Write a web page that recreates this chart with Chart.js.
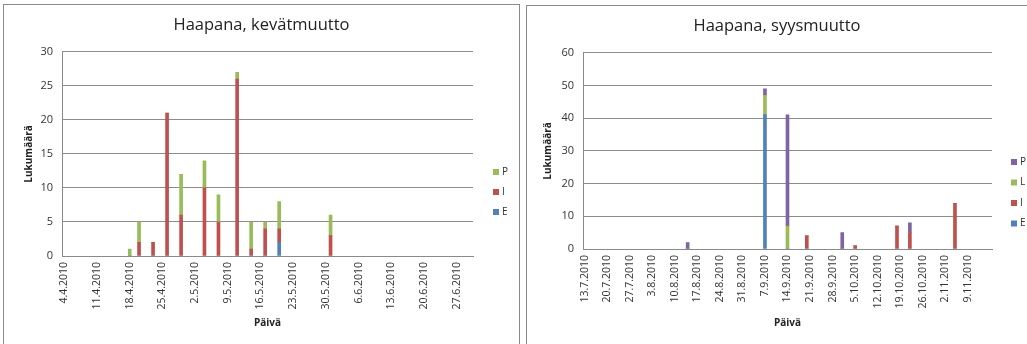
<!DOCTYPE html>
<html>
<head>
<meta charset="utf-8">
<script src="https://cdn.jsdelivr.net/npm/chart.js@4"></script>
<style>
  body { margin: 0; background: #fff; }
  .panel { position: absolute; border: 1px solid #8a8a8a; background: #fff; }
  #p1 { left: 3px; top: 4px; width: 515px; height: 360px; }
  #p2 { left: 526px; top: 5px; width: 510px; height: 360px; }
  canvas { display: block; }
</style>
</head>
<body>
<div class="panel" id="p1"><canvas id="spring" width="515" height="340"></canvas></div>
<div class="panel" id="p2"><canvas id="autumn" width="500" height="338"></canvas></div>
<script>
// kevätmuutto (spring)
const springStart = '4.4.2010';
const springEnd = '30.6.2010';
const springDates = ['18.4.2010', '20.4.2010', '23.4.2010', '26.4.2010', '29.4.2010', '4.5.2010',
  '7.5.2010', '11.5.2010', '14.5.2010', '17.5.2010', '20.5.2010', '31.5.2010'];
const springE = [0, 0, 0, 0, 0, 0, 0, 0, 0, 0, 2, 0];
const springI = [0, 2, 2, 21, 6, 10, 5, 26, 1, 4, 2, 3];
const springP = [1, 3, 0, 0, 6, 4, 4, 1, 4, 1, 4, 3];
const springTicks = ['4.4.2010', '11.4.2010', '18.4.2010', '25.4.2010', '2.5.2010', '9.5.2010',
  '16.5.2010', '23.5.2010', '30.5.2010', '6.6.2010', '13.6.2010', '20.6.2010', '27.6.2010'];

// syysmuutto (autumn)
const autumnStart = '13.7.2010';
const autumnEnd = '16.11.2010';
const autumnDates = ['14.8.2010', '7.9.2010', '14.9.2010', '20.9.2010', '1.10.2010', '5.10.2010',
  '18.10.2010', '22.10.2010', '5.11.2010'];
const autumnE = [0, 41, 0, 0, 0, 0, 0, 0, 0];
const autumnI = [0, 0, 0, 4, 0, 1, 7, 5, 14];
const autumnL = [0, 6, 7, 0, 0, 0, 0, 0, 0];
const autumnP = [2, 2, 34, 0, 5, 0, 0, 3, 0];
const autumnTicks = ['13.7.2010', '20.7.2010', '27.7.2010', '3.8.2010', '10.8.2010', '17.8.2010',
  '24.8.2010', '31.8.2010', '7.9.2010', '14.9.2010', '21.9.2010', '28.9.2010', '5.10.2010',
  '12.10.2010', '19.10.2010', '26.10.2010', '2.11.2010', '9.11.2010'];

const BLUE = '#4F81BD', RED = '#C0504D', GREEN = '#9BBB59', PURPLE = '#8064A2';
const FONT = '"Open Sans", "DejaVu Sans", sans-serif';

function dayIndex(str, start) {
  const p = str.split('.').map(Number);
  const s = start.split('.').map(Number);
  return Math.round((Date.UTC(p[2], p[1] - 1, p[0]) - Date.UTC(s[2], s[1] - 1, s[0])) / 86400000);
}

// legend drawn at the right like the Excel one (reverse order)
const sideLegend = {
  id: 'sideLegend',
  afterDraw(chart, args, opts) {
    const ctx = chart.ctx;
    const sets = chart.data.datasets.slice().reverse();
    ctx.save();
    ctx.font = '10px ' + FONT;
    ctx.textBaseline = 'middle';
    sets.forEach((ds, i) => {
      const y = opts.y + i * opts.gap;
      ctx.fillStyle = ds.backgroundColor;
      ctx.fillRect(opts.x, y - 3, 6, 6);
      ctx.fillStyle = '#333';
      ctx.fillText(ds.label, opts.x + 9, y);
    });
    ctx.restore();
  }
};

function drawChart(canvasId, cfg) {
  const start = cfg.start;
  const tickLabels = {};
  cfg.ticks.forEach(t => { tickLabels[dayIndex(t, start)] = t; });

  const datasets = cfg.series.map(s => ({
    label: s.label,
    data: cfg.dates.map((d, i) => ({ x: dayIndex(d, start), y: s.values[i] })),
    backgroundColor: s.color,
    borderWidth: 0,
    barThickness: 3
  }));

  new Chart(document.getElementById(canvasId), {
    type: 'bar',
    data: { datasets: datasets },
    plugins: [sideLegend],
    options: {
      responsive: false,
      animation: false,
      layout: { padding: 0 },
      scales: {
        x: {
          type: 'linear',
          stacked: true,
          offset: false,
          min: -0.5,
          max: dayIndex(cfg.end, start) + 0.5,
          grid: { display: false, drawTicks: false },
          border: { display: true, color: '#8a8a8a' },
          afterBuildTicks: scale => {
            scale.ticks = cfg.ticks.map(t => ({ value: dayIndex(t, start) }));
          },
          afterFit: scale => { scale.height = cfg.xHeight; },
          ticks: {
            autoSkip: false,
            minRotation: 90,
            maxRotation: 90,
            padding: 6,
            color: '#333',
            font: { family: FONT, size: 10.5 },
            callback: v => tickLabels[v] || ''
          },
          title: {
            display: true,
            text: 'Päivä',
            color: '#222',
            font: { family: FONT, size: 10, weight: 'bold' },
            padding: { top: 4, bottom: cfg.xTitlePad }
          }
        },
        y: {
          stacked: true,
          min: 0,
          max: cfg.yMax,
          grid: { color: '#8c8c8c', drawTicks: false },
          border: { display: true, color: '#8a8a8a' },
          afterFit: scale => { scale.width = cfg.yWidth; },
          ticks: {
            stepSize: cfg.yStep,
            padding: 9,
            color: '#333',
            font: { family: FONT, size: 11 }
          },
          title: {
            display: true,
            text: 'Lukumäärä',
            color: '#222',
            font: { family: FONT, size: 10, weight: 'bold' },
            padding: { top: cfg.yTitlePad, bottom: 0 }
          }
        },
        // empty right-hand axis that only keeps room for the legend
        yRight: {
          position: 'right',
          display: true,
          grid: { display: false, drawTicks: false },
          border: { display: false },
          ticks: { display: false },
          afterFit: scale => { scale.width = cfg.padRight; }
        }
      },
      plugins: {
        legend: { display: false },
        tooltip: { enabled: false },
        title: {
          display: true,
          text: cfg.title,
          color: '#222',
          font: { family: FONT, size: 16.5, weight: 'normal' },
          padding: { top: cfg.titleTop, bottom: cfg.titleBottom }
        },
        sideLegend: cfg.legend
      }
    }
  });
}

drawChart('spring', {
  title: 'Haapana, kevätmuutto',
  start: springStart, end: springEnd,
  dates: springDates, ticks: springTicks,
  series: [
    { label: 'E', values: springE, color: BLUE },
    { label: 'I', values: springI, color: RED },
    { label: 'P', values: springP, color: GREEN }
  ],
  yMax: 30, yStep: 5,
  padRight: 46, yWidth: 58, xHeight: 89,
  xTitlePad: 16, yTitlePad: 19,
  titleTop: 10, titleBottom: 17,
  legend: { x: 489, y: 167, gap: 20 }
});

drawChart('autumn', {
  title: 'Haapana, syysmuutto',
  start: autumnStart, end: autumnEnd,
  dates: autumnDates, ticks: autumnTicks,
  series: [
    { label: 'E', values: autumnE, color: BLUE },
    { label: 'I', values: autumnI, color: RED },
    { label: 'L', values: autumnL, color: GREEN },
    { label: 'P', values: autumnP, color: PURPLE }
  ],
  yMax: 60, yStep: 10,
  padRight: 35, yWidth: 56, xHeight: 95,
  xTitlePad: 15, yTitlePad: 15,
  titleTop: 10, titleBottom: 17,
  legend: { x: 484, y: 156, gap: 20.5 }
});
</script>
</body>
</html>
